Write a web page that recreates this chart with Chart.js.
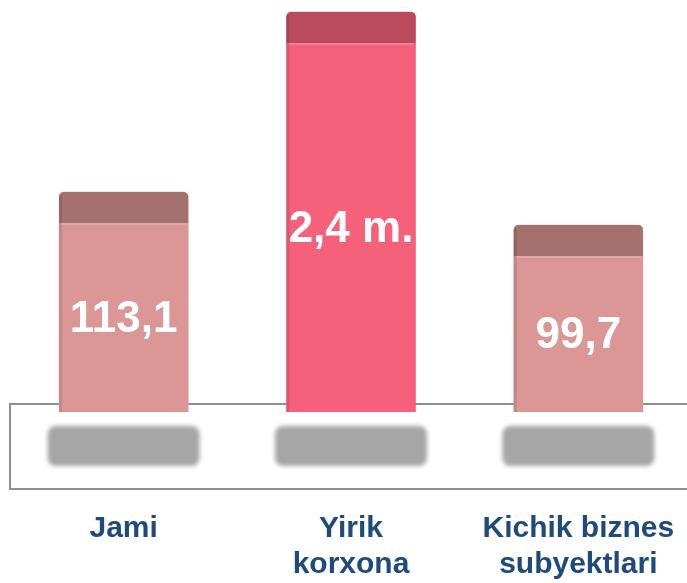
<!DOCTYPE html>
<html>
<head>
<meta charset="utf-8">
<script src="https://cdn.jsdelivr.net/npm/chart.js@4.4.1/dist/chart.umd.min.js"></script>
<style>
    body { margin: 0; background: #fff; }
    #wrap { width: 687px; height: 583px; overflow: hidden; }
</style>
</head>
<body>
<div id="wrap"><canvas id="myChart" width="692" height="583"></canvas></div>
<script>
// data
const categories = [['Jami'], ['Yirik', 'korxona'], ['Kichik biznes', 'subyektlari']];
const barHeights = [220, 400, 187];            // bar heights
const valueLabels = ['113,1', '2,4 m.', '99,7']; // text printed on the bars
const faceColors = ['#db9696', '#f5607a', '#db9696'];
const capColors = ['#a4716e', '#b94b5d', '#a4716e'];

// floor, shadows, bar tops and value texts
const decoPlugin = {
    id: 'deco',
    beforeDatasetsDraw(chart) {
        const ctx = chart.ctx;
        const bottom = chart.chartArea.bottom;
        ctx.save();
        // floor box
        ctx.strokeStyle = '#8f8f8f';
        ctx.lineWidth = 2;
        ctx.strokeRect(10, bottom - 8, 700, 85);
        // blurred shadows under each bar
        ctx.fillStyle = '#a6a6a6';
        ctx.filter = 'blur(2px)';
        chart.getDatasetMeta(0).data.forEach(bar => {
            ctx.beginPath();
            ctx.roundRect(bar.x - 76, bottom + 14, 152, 40, 8);
            ctx.fill();
        });
        ctx.restore();
    },
    afterDatasetsDraw(chart) {
        const ctx = chart.ctx;
        ctx.save();
        chart.getDatasetMeta(0).data.forEach((bar, i) => {
            const w = bar.width;
            const left = bar.x - w / 2;
            // darker top cap
            ctx.fillStyle = capColors[i];
            ctx.beginPath();
            ctx.roundRect(left, bar.y, w, 31, [5, 5, 0, 0]);
            ctx.fill();
            // soft left edge shading
            ctx.fillStyle = 'rgba(0,0,0,0.10)';
            ctx.fillRect(left, bar.y + 3, 3, bar.base - bar.y - 3);
            ctx.fillStyle = 'rgba(255,255,255,0.18)';
            ctx.fillRect(left + 2, bar.y + 31, w - 4, 2);
            // value text, centred on the front face
            ctx.fillStyle = '#ffffff';
            ctx.font = 'bold 44px "Liberation Sans", Arial, sans-serif';
            ctx.textAlign = 'center';
            ctx.textBaseline = 'middle';
            ctx.fillText(valueLabels[i], bar.x, (bar.y + 31 + bar.base) / 2 + 2);
        });
        ctx.restore();
    }
};

const ctx = document.getElementById('myChart');
let myChart = new Chart(ctx, {
    type: 'bar',
    data: {
        labels: categories,
        datasets: [{
            data: barHeights,
            backgroundColor: faceColors,
            borderRadius: { topLeft: 5, topRight: 5 },
            borderSkipped: 'bottom',
            barThickness: 129
        }]
    },
    options: {
        responsive: false,
        animation: false,
        layout: { padding: { left: 10, top: 0, right: 0, bottom: 0 } },
        plugins: {
            legend: { display: false },
            tooltip: { enabled: false }
        },
        scales: {
            x: {
                grid: { display: false, drawTicks: false },
                border: { display: false },
                ticks: {
                    color: '#1f4a7e',
                    font: { family: '"Liberation Sans", Arial, sans-serif', size: 30, weight: 'bold', lineHeight: 1.2 },
                    padding: 99,
                    maxRotation: 0,
                    autoSkip: false
                },
                afterFit(scale) {
                    scale.height = 171;
                    // the long last label should not shrink the plot
                    scale.paddingLeft = 0;
                    scale.paddingRight = 0;
                }
            },
            y: {
                display: false,
                min: 0,
                max: 412
            }
        }
    },
    plugins: [decoPlugin]
});
</script>
</body>
</html>
